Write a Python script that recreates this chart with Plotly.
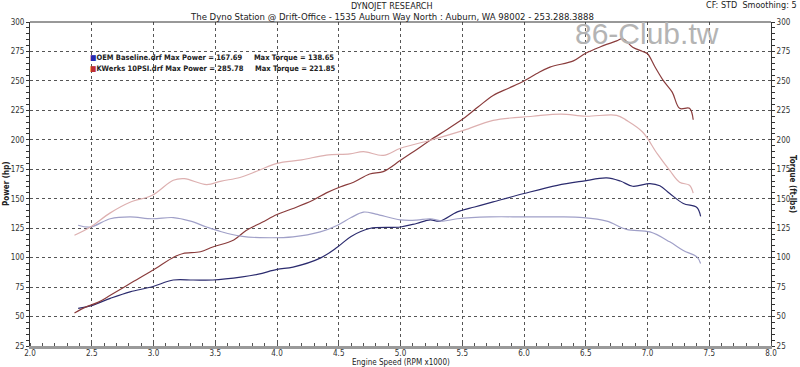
import plotly.graph_objects as go

# ---- data (rpm x1000, values) ----
kw_power_rpm = [2.36, 2.45, 2.55, 2.65, 2.81, 2.99, 3.17, 3.24, 3.38, 3.48, 3.65, 3.75, 3.88, 4.0, 4.13, 4.29, 4.4, 4.51, 4.62, 4.75, 4.86, 5.0, 5.12, 5.24, 5.38, 5.51, 5.63, 5.75, 5.88, 6.0, 6.1, 6.21, 6.4, 6.5, 6.62, 6.75, 6.8, 6.88, 6.96, 7.0, 7.06, 7.13, 7.2, 7.26, 7.34, 7.37]
kw_power_hp = [53, 58, 62, 68, 78, 89, 100.7, 103.5, 105, 109, 115, 123, 130, 136.6, 141.7, 148.7, 155, 160, 164, 171, 173, 182.6, 191, 199.6, 209, 218, 228, 237.7, 244, 250, 256, 261.7, 267, 273.5, 279, 284, 285.78, 278.6, 275, 273, 262, 250, 240.5, 226.7, 226.7, 217]

kw_torque_rpm = [2.36, 2.49, 2.65, 2.81, 2.99, 3.16, 3.25, 3.43, 3.55, 3.7, 3.85, 4.0, 4.2, 4.4, 4.59, 4.7, 4.86, 5.0, 5.24, 5.51, 5.75, 6.07, 6.3, 6.5, 6.75, 6.83, 6.96, 7.08, 7.18, 7.26, 7.34, 7.37]
kw_torque_lbft = [119, 126, 138, 147, 153, 165.7, 167, 162, 165, 168, 174, 180, 183, 187, 188, 190, 186.8, 192.8, 199.6, 208, 216.5, 220, 221.85, 220, 220.8, 216.5, 206.6, 188, 174, 164, 161.4, 154.7]

oem_power_rpm = [2.39, 2.49, 2.65, 2.81, 2.99, 3.16, 3.32, 3.48, 3.72, 3.85, 4.0, 4.13, 4.35, 4.49, 4.6, 4.75, 5.0, 5.13, 5.24, 5.32, 5.46, 5.6, 5.75, 6.0, 6.27, 6.48, 6.67, 6.78, 6.88, 7.02, 7.1, 7.18, 7.29, 7.4, 7.43]
oem_power_hp = [57, 59, 65.4, 71, 75.3, 81, 81, 81, 83.7, 86, 90, 92, 99.6, 109, 118, 124.7, 126, 129, 132, 131, 138.8, 143, 147.3, 154.4, 161.4, 165, 167.69, 165, 160.6, 162.9, 161, 154.4, 146, 142.6, 135]

oem_torque_rpm = [2.39, 2.49, 2.65, 2.81, 2.99, 3.16, 3.3, 3.43, 3.55, 3.72, 3.86, 4.13, 4.35, 4.49, 4.6, 4.7, 4.8, 5.0, 5.13, 5.24, 5.34, 5.46, 5.72, 6.0, 6.27, 6.48, 6.67, 6.83, 7.02, 7.18, 7.29, 7.4, 7.43]
oem_torque_lbft = [127.5, 126, 133, 134.6, 133, 134, 131, 126, 122, 118, 117, 117.6, 121.8, 127.5, 134, 138.65, 137, 132, 131.8, 133, 131, 133, 134.6, 134.6, 134.6, 134, 131, 124, 121.8, 113.4, 106, 100.6, 95]

x_ticks = [2.0, 2.5, 3.0, 3.5, 4.0, 4.5, 5.0, 5.5, 6.0, 6.5, 7.0, 7.5, 8.0]
y_ticks = [25, 50, 75, 100, 125, 150, 175, 200, 225, 250, 275, 300]

C_OEM_P = "#2b2b6e"
C_OEM_T = "#a0a0c8"
C_KW_P = "#8a3c3c"
C_KW_T = "#ddb0b0"

FONT = "DejaVu Sans Condensed, DejaVu Sans"

fig = go.Figure()
fig.add_trace(go.Scatter(x=oem_torque_rpm, y=oem_torque_lbft, mode="lines", yaxis="y2",
                         line=dict(color=C_OEM_T, width=1.2), line_shape="spline"))
fig.add_trace(go.Scatter(x=kw_torque_rpm, y=kw_torque_lbft, mode="lines", yaxis="y2",
                         line=dict(color=C_KW_T, width=1.2), line_shape="spline"))
fig.add_trace(go.Scatter(x=oem_power_rpm, y=oem_power_hp, mode="lines",
                         line=dict(color=C_OEM_P, width=1.2), line_shape="spline"))
fig.add_trace(go.Scatter(x=kw_power_rpm, y=kw_power_hp, mode="lines",
                         line=dict(color=C_KW_P, width=1.2), line_shape="spline"))

grid = dict(showgrid=True, gridcolor="#555555", gridwidth=1, griddash="dot")
tickfont = dict(family=FONT, size=8, color="#333333")

fig.update_layout(
    width=800, height=367,
    margin=dict(l=30, r=29, t=22, b=21),
    paper_bgcolor="white", plot_bgcolor="white",
    showlegend=False,
    xaxis=dict(range=[2.0, 8.0], tickvals=x_ticks, ticktext=[f"{v:.1f}" for v in x_ticks],
               showline=True, linecolor="#9a9a9a", linewidth=3, ticks="", ticklabelstandoff=-3,
               tickfont=tickfont, zeroline=False, automargin=False,
               minor=dict(dtick=0.1, ticks="inside", ticklen=3, tickcolor="#555555", showgrid=False),
               **grid),
    yaxis=dict(range=[25, 300], tickvals=y_ticks, showline=True, linecolor="#333333", linewidth=1,
               ticks="outside", ticklen=3, tickcolor="#333333", tickfont=tickfont, zeroline=False,
               automargin=False,
               minor=dict(dtick=5, ticks="outside", ticklen=3, tickcolor="#333333", showgrid=False),
               **grid),
    yaxis2=dict(range=[25, 300], tickvals=y_ticks, overlaying="y", side="right", showline=True,
                linecolor="#333333", linewidth=1, ticks="outside", ticklen=3, tickcolor="#333333",
                tickfont=tickfont, zeroline=False, showgrid=False, automargin=False,
                minor=dict(dtick=5, ticks="outside", ticklen=3, tickcolor="#333333")),
)

# top frame line
fig.add_shape(type="line", xref="paper", yref="paper", x0=0, x1=1, y0=1, y1=1,
              line=dict(color="#333333", width=1))


def note(text, x, y, xshift=0, yshift=0, xanchor="center", size=8, family=FONT, color="#222222", angle=0):
    fig.add_annotation(text=text, xref="paper", yref="paper", x=x, y=y, xshift=xshift, yshift=yshift,
                       xanchor=xanchor, yanchor="middle", textangle=angle, showarrow=False,
                       borderpad=0, font=dict(family=family, size=size, color=color))


note("DYNOJET RESEARCH", 0.488, 1.0, yshift=16, size=9)
note("The Dyno Station @ Drift-Office - 1535 Auburn Way North : Auburn, WA 98002 - 253.288.3888",
     0.488, 1.0, yshift=6, size=9.5)
note("CF: STD  Smoothing: 5", 1.0, 1.0, xshift=27, yshift=17, xanchor="right", size=9)
note("86-Club.tw", 0.832, 1.0, yshift=-11, size=30, family="Liberation Sans", color="#b4b4b4")
note("Engine Speed (RPM x1000)", 0.5, 0.0, yshift=-16.5, size=8)
note("<b>Power (hp)</b>", 0.0, 0.5, xshift=-24, angle=-90)
note("<b>Torque (ft-lbs)</b>", 1.0, 0.5, xshift=22, angle=90)

sp = "&nbsp;" * 5
leg1 = f'<span style="color:#2a2ab0">■</span><b>OEM Baseline.drf Max Power = {max(oem_power_hp):.2f}{sp}Max Torque = {max(oem_torque_lbft):.2f}</b>'
leg2 = f'<span style="color:#c03030">■</span><b>KWerks 10PSI.drf Max Power = {max(kw_power_hp):.2f}{sp}Max Torque = {max(kw_torque_lbft):.2f}</b>'
note(leg1, 0.08, 1.0, yshift=-35, xanchor="left", size=7.5)
note(leg2, 0.08, 1.0, yshift=-46, xanchor="left", size=7.5)

fig.write_html("out.html", config={"displayModeBar": False},
               post_script="document.body.style.margin='0';")
